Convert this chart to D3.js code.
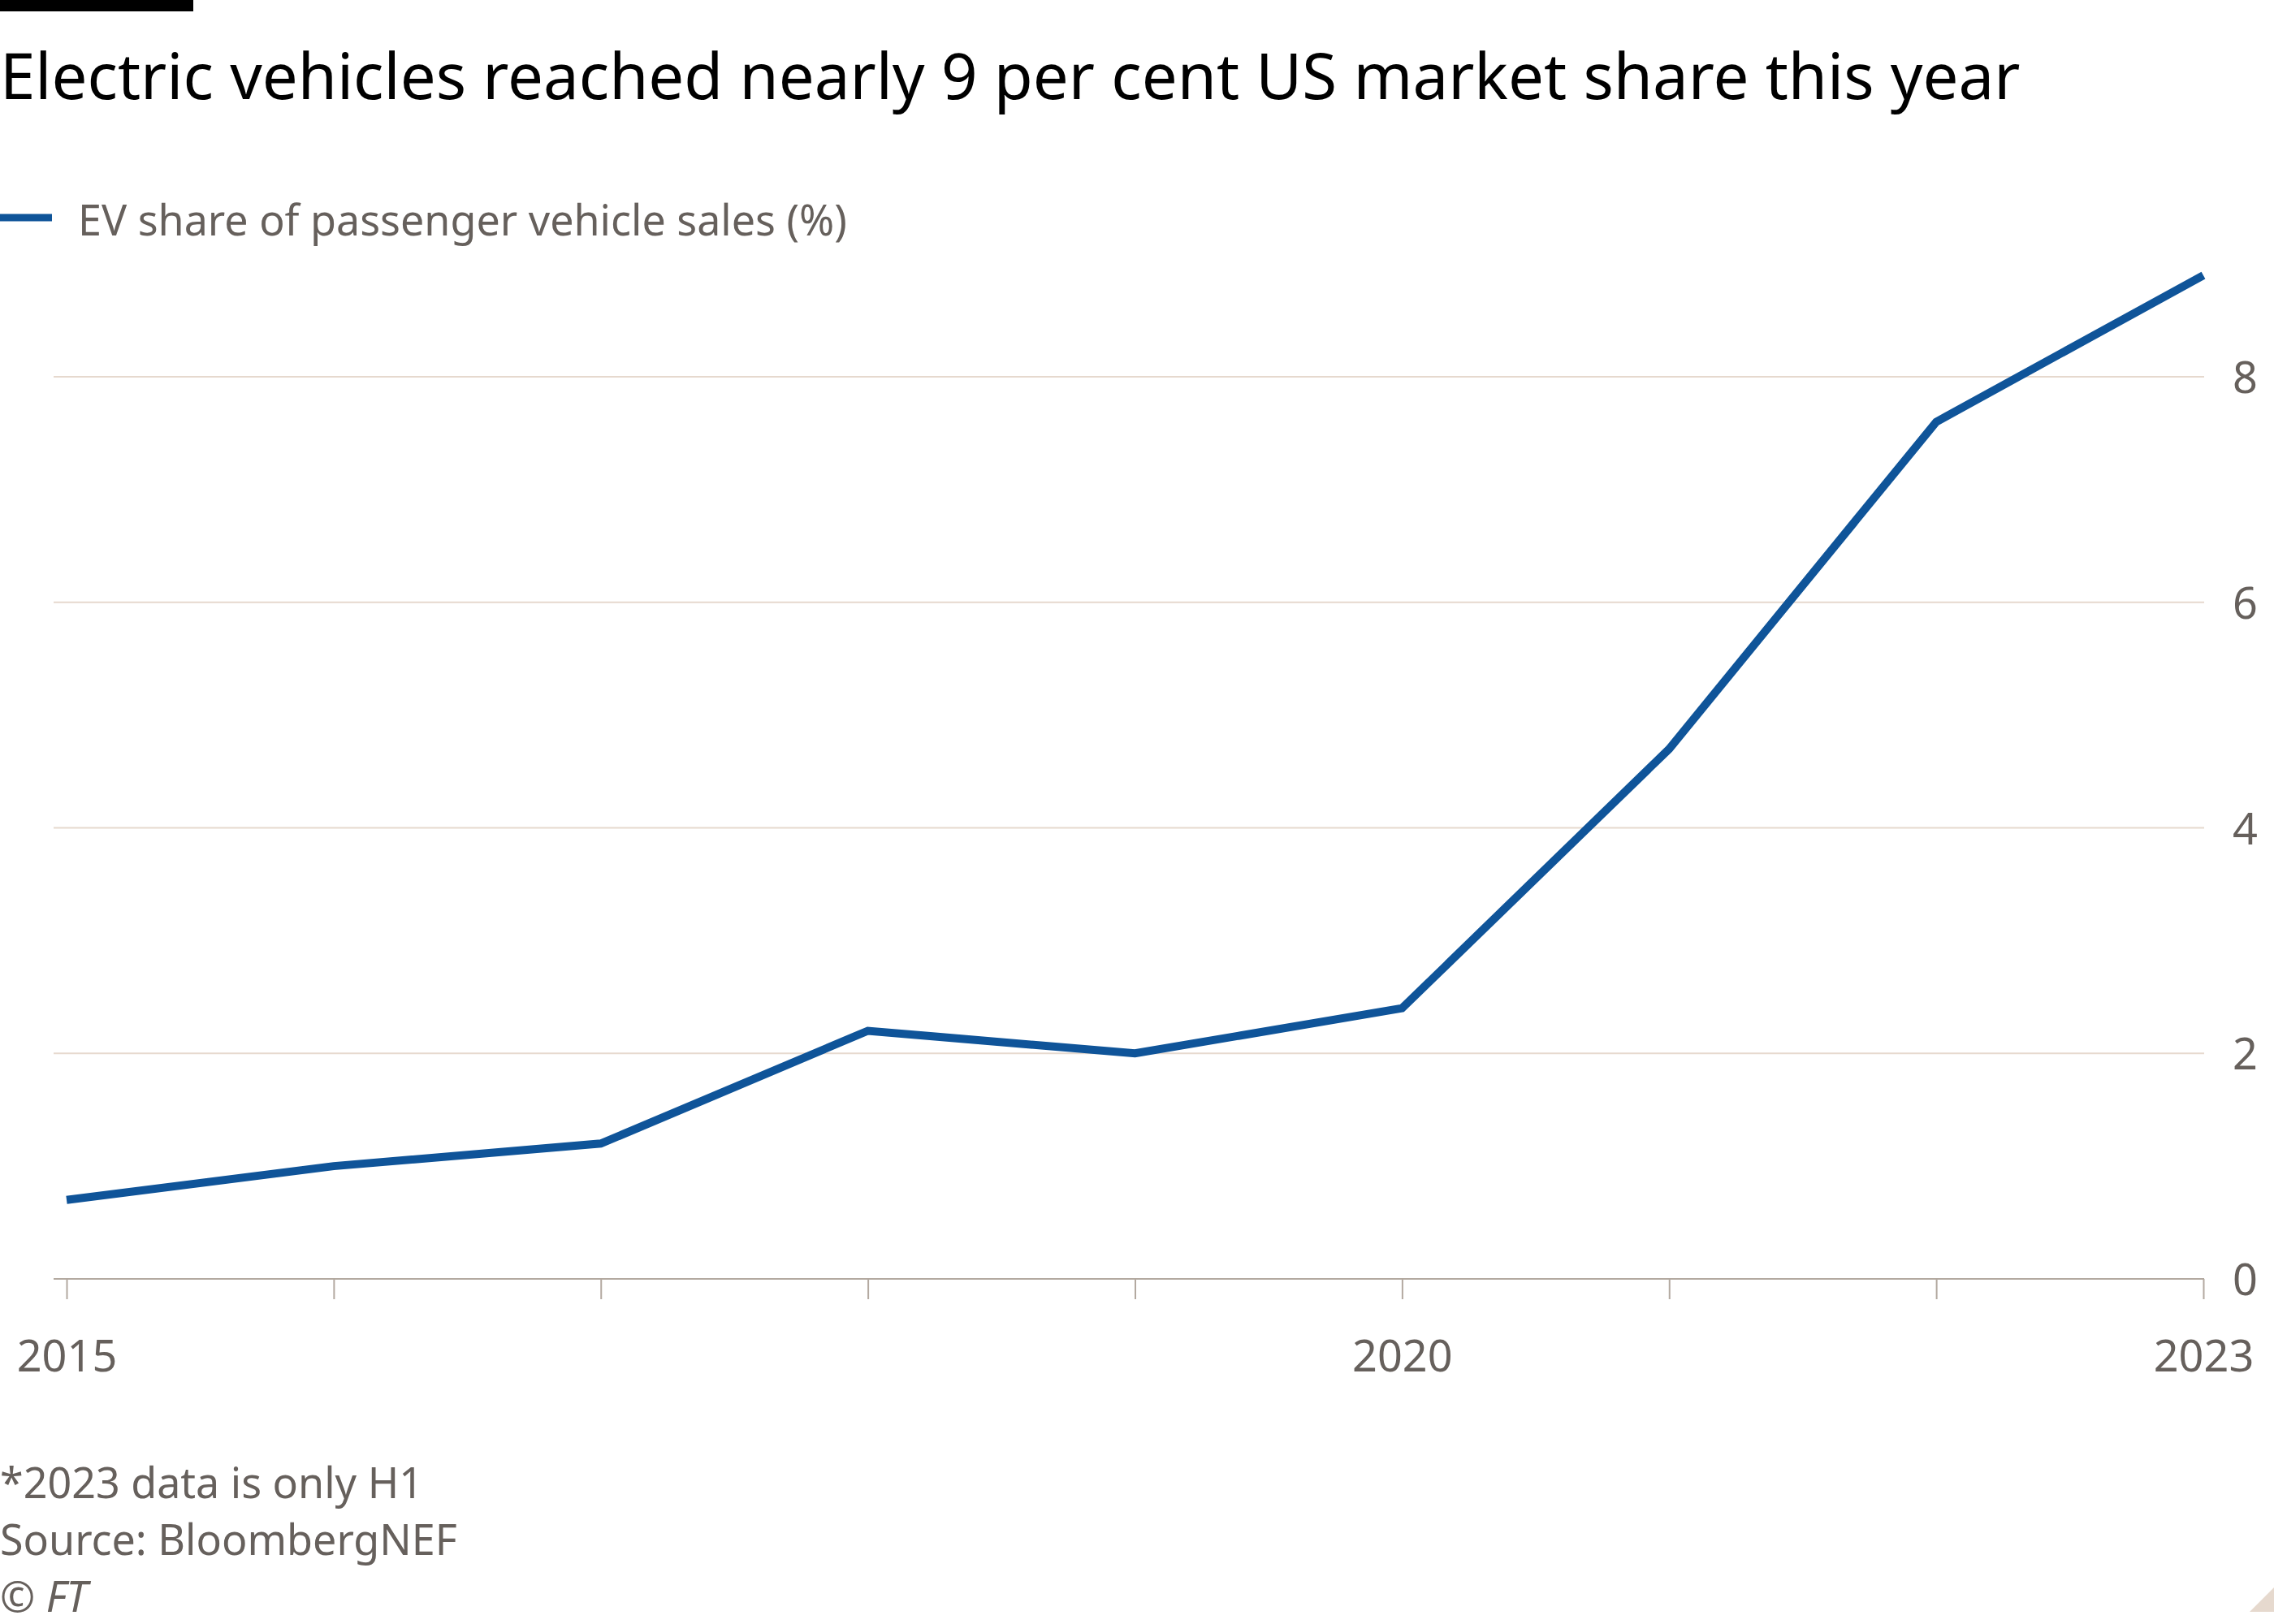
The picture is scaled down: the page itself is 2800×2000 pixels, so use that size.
<!DOCTYPE html>
<html>
<head>
<meta charset="utf-8">
<script src="https://cdn.jsdelivr.net/npm/d3@7"></script>
<style>
  body { margin: 0; background: #fff; }
  text { font-family: "Noto Sans", "Open Sans", sans-serif; }
</style>
</head>
<body>
<svg id="chart" width="2800" height="2000"></svg>
<script>
// data
const years = [2015, 2016, 2017, 2018, 2019, 2020, 2021, 2022, 2023];
const evShare = [0.7, 1.0, 1.2, 2.2, 2.0, 2.4, 4.7, 7.6, 8.9];
const yTicks = [0, 2, 4, 6, 8];
const xLabels = [2015, 2020, 2023];

const svg = d3.select('#chart');
const data = years.map((y, i) => ({ year: y, value: evShare[i] }));

const x = d3.scaleLinear().domain([2015, 2023]).range([82, 2713]);
const y = d3.scaleLinear().domain([0, 8]).range([1575, 464]);

// top bar
svg.append('rect').attr('x', 0).attr('y', 0).attr('width', 238).attr('height', 14).attr('fill', '#000');

svg.append('text').attr('x', 0).attr('y', 122)
  .attr('font-size', 78).attr('fill', '#000')
  .text('Electric vehicles reached nearly 9 per cent US market share this year');

// legend
svg.append('line').attr('x1', 0).attr('x2', 64).attr('y1', 268).attr('y2', 268)
  .attr('stroke', '#0f5499').attr('stroke-width', 9);
svg.append('text').attr('x', 96).attr('y', 290)
  .attr('font-size', 52).attr('fill', '#66605c')
  .text('EV share of passenger vehicle sales (%)');

// gridlines
svg.append('g').selectAll('line').data(yTicks.filter(d => d > 0)).join('line')
  .attr('x1', 66).attr('x2', 2714)
  .attr('y1', d => y(d)).attr('y2', d => y(d))
  .attr('stroke', '#e6d9ce').attr('stroke-width', 2);

// y labels
svg.append('g').selectAll('text').data(yTicks).join('text')
  .attr('x', 2780).attr('y', d => y(d) + 20)
  .attr('text-anchor', 'end').attr('font-size', 54).attr('fill', '#66605c')
  .text(d => d);

// x axis
const xAxis = d3.axisBottom(x).tickValues(years).tickSize(25).tickFormat(d => xLabels.includes(d) ? d : '');
const gx = svg.append('g').attr('transform', `translate(0,${y(0)})`).call(xAxis);
gx.select('.domain').attr('stroke', '#b3a9a0').attr('stroke-width', 2).attr('d', `M66,0H2714`);
gx.selectAll('.tick line').attr('stroke', '#b3a9a0').attr('stroke-width', 2);
gx.selectAll('.tick text').attr('font-size', 54).attr('fill', '#66605c').attr('dy', '1.6em')
  .attr('font-family', '"Noto Sans", sans-serif');

// line
svg.append('path').datum(data)
  .attr('fill', 'none').attr('stroke', '#0f5499').attr('stroke-width', 10)
  .attr('d', d3.line().x(d => x(d.year)).y(d => y(d.value)));

// footer
const foot = ['*2023 data is only H1', 'Source: BloombergNEF'];
svg.append('g').selectAll('text').data(foot).join('text')
  .attr('x', 0).attr('y', (d, i) => 1845 + i * 70)
  .attr('font-size', 52).attr('fill', '#66605c').text(d => d);
svg.append('text').attr('x', 0).attr('y', 1985).attr('font-size', 52)
  .attr('font-style', 'italic').attr('fill', '#66605c').text('© FT');

// corner mark
svg.append('path').attr('d', 'M2800,1955L2800,1985L2770,1985Z').attr('fill', '#e6d9ce');
</script>
</body>
</html>
